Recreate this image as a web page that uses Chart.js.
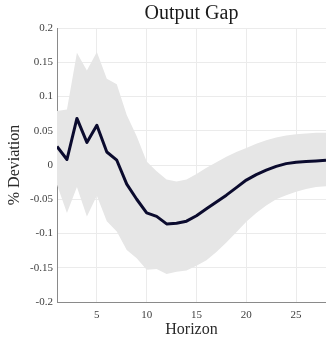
<!DOCTYPE html>
<html>
<head>
<meta charset="utf-8">
<script src="https://cdn.jsdelivr.net/npm/chart.js@4/dist/chart.umd.min.js"></script>
<style>
html,body{margin:0;padding:0;background:#fff;}
#wrap{width:326px;height:337px;}
</style>
</head>
<body>
<div id="wrap"><canvas id="c" width="326" height="337"></canvas></div>
<script>
const horizon = [1,2,3,4,5,6,7,8,9,10,11,12,13,14,15,16,17,18,19,20,21,22,23,24,25,26,27,28];
const irf = [0.027,0.008,0.068,0.033,0.058,0.019,0.007,-0.028,-0.050,-0.070,-0.075,-0.086,-0.085,-0.082,-0.074,-0.064,-0.054,-0.044,-0.033,-0.022,-0.014,-0.0075,-0.002,0.002,0.004,0.005,0.006,0.007];
const upper = [0.079,0.081,0.164,0.138,0.165,0.126,0.118,0.073,0.042,0.005,-0.009,-0.021,-0.024,-0.021,-0.013,-0.004,0.004,0.012,0.019,0.025,0.031,0.036,0.040,0.043,0.045,0.046,0.047,0.047];
const lower = [-0.029,-0.070,-0.032,-0.075,-0.045,-0.082,-0.097,-0.124,-0.136,-0.153,-0.152,-0.159,-0.156,-0.154,-0.147,-0.139,-0.127,-0.113,-0.098,-0.083,-0.070,-0.059,-0.050,-0.044,-0.039,-0.035,-0.032,-0.031];
const xTicks = [5,10,15,20,25];
const yTicks = [-0.2,-0.15,-0.1,-0.05,0,0.05,0.1,0.15,0.2];
const yTickLabels = ['-0.2','-0.15','-0.1','-0.05','0','0.05','0.1','0.15','0.2'];

const serif = "'Liberation Serif', 'Times New Roman', serif";
const pts = arr => horizon.map((h,i)=>({x:h,y:arr[i]}));

new Chart(document.getElementById('c'), {
  type: 'line',
  data: {
    datasets: [
      {label:'upper', data: pts(upper), borderWidth:0, pointRadius:0, backgroundColor:'#e6e6e6', fill:'+1', tension:0, order:2},
      {label:'lower', data: pts(lower), borderWidth:0, pointRadius:0, backgroundColor:'#e6e6e6', fill:false, tension:0, order:2},
      {label:'irf', data: pts(irf), borderColor:'#0b0b2e', borderWidth:3, pointRadius:0, fill:false, tension:0, order:1, borderJoinStyle:'round'}
    ]
  },
  options: {
    responsive:false, animation:false, devicePixelRatio:1,
    layout:{padding:0},
    plugins:{
      legend:{display:false}, tooltip:{enabled:false},
      title:{display:true, text:'Output Gap', fullSize:false, color:'#1a1a1a',
        font:{family:serif, size:20, weight:'normal', lineHeight:1.2}, padding:{top:2,bottom:2}}
    },
    scales:{
      x:{type:'linear', min:1, max:28,
        afterFit: s => { s.height = 35; },
        afterBuildTicks: s => { s.ticks = xTicks.map(v=>({value:v})); },
        grid:{color:'#ebebeb', drawTicks:false, lineWidth:1},
        border:{color:'#8a8a8a', width:1},
        ticks:{color:'#404040', font:{family:serif, size:11}, padding:7, maxRotation:0},
        title:{display:true, text:'Horizon', color:'#2a2a2a', font:{family:serif, size:16, lineHeight:1}, padding:{top:0,bottom:-1}}
      },
      y:{type:'linear', min:-0.2, max:0.2,
        afterFit: s => { s.width = 57; },
        afterBuildTicks: s => { s.ticks = yTicks.map(v=>({value:v})); },
        grid:{color:'#ebebeb', drawTicks:false, lineWidth:1},
        border:{color:'#8a8a8a', width:1},
        ticks:{color:'#404040', font:{family:serif, size:11}, padding:4,
          callback: (v)=>{ const i = yTicks.findIndex(t=>Math.abs(t-v)<1e-9); return i>=0 ? yTickLabels[i] : ''; }},
        title:{display:true, text:'% Deviation', color:'#2a2a2a', font:{family:serif, size:16, lineHeight:1.2}, padding:{top:5,bottom:0}}
      }
    }
  }
});
</script>
</body>
</html>
